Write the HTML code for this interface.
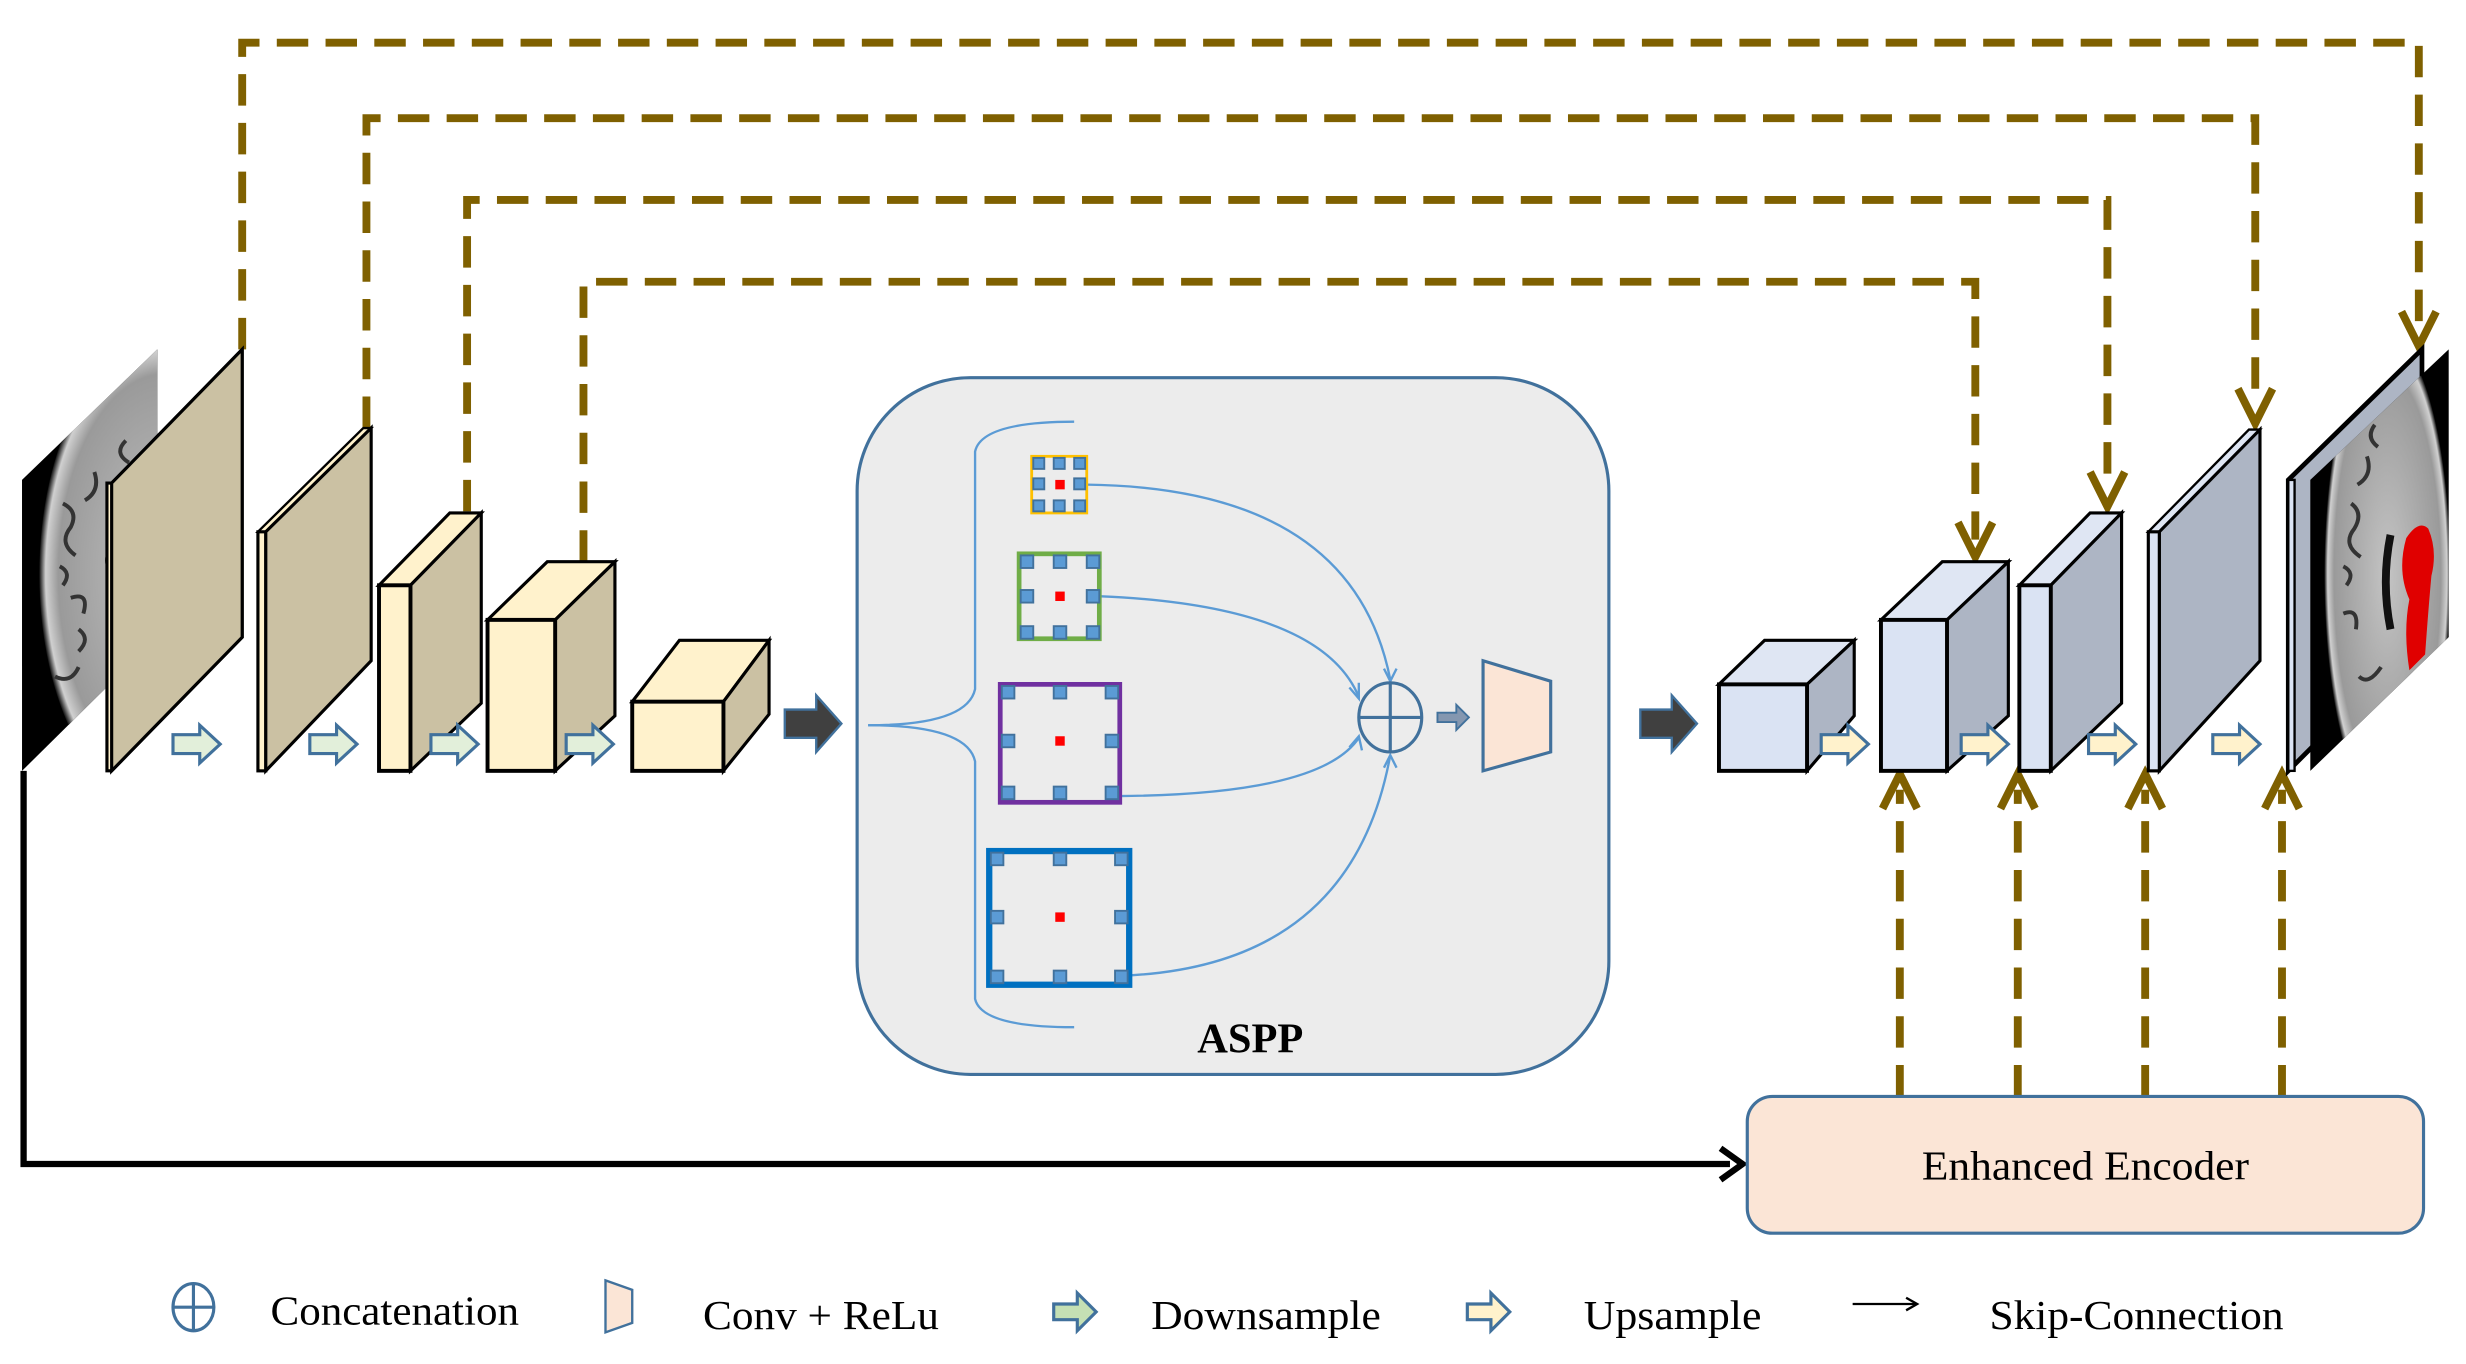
<!DOCTYPE html>
<html><head><meta charset="utf-8"><style>html,body{margin:0;padding:0;background:#fff}svg{display:block}</style></head>
<body>
<svg width="2466" height="1364" viewBox="0 0 1568 867" xmlns="http://www.w3.org/2000/svg" font-family="Liberation Serif, serif">
<defs>
<radialGradient id="br" cx="0.5" cy="0.5" r="0.5"><stop offset="0" stop-color="#c4c4c4"/><stop offset="0.85" stop-color="#9a9a9a"/><stop offset="0.95" stop-color="#d0d0d0"/><stop offset="1" stop-color="#111"/></radialGradient>
<clipPath id="cl"><polygon points="14,305 100,222 100,405 14,490"/></clipPath>
<clipPath id="cr"><polygon points="1469,305 1557,222 1557,405 1469,490"/></clipPath>
<g id="ka"><path d="M0,-6 h17 v-6 l13,12 l-13,12 v-6 h-17 z"/></g>
</defs>

<!-- top dashed skip connections -->
<g fill="none" stroke="#7f6000" stroke-width="5" stroke-dasharray="20,11">
<polyline points="154,222 154,27 1538,27 1538,210"/>
<polyline points="233,272 233,75 1434,75 1434,258"/>
<polyline points="297,325 297,127 1340,127 1340,312"/>
<polyline points="371,357 371,179 1256,179 1256,343"/>
<line x1="1208" y1="697" x2="1208" y2="502"/>
<line x1="1283" y1="697" x2="1283" y2="502"/>
<line x1="1364" y1="697" x2="1364" y2="502"/>
<line x1="1451" y1="697" x2="1451" y2="502"/>
</g>
<g fill="none" stroke="#7f6000" stroke-width="5" stroke-linejoin="miter">
<polyline points="1527,198 1538,220 1549,198"/>
<polyline points="1423,247 1434,269 1445,247"/>
<polyline points="1329,300 1340,322 1351,300"/>
<polyline points="1245,332 1256,354 1267,332"/>
<polyline points="1197,514 1208,492 1219,514"/>
<polyline points="1272,514 1283,492 1294,514"/>
<polyline points="1353,514 1364,492 1375,514"/>
<polyline points="1440,514 1451,492 1462,514"/>
</g>

<!-- left brain -->
<polygon points="14,305 100,222 100,405 14,490" fill="#000"/>
<g clip-path="url(#cl)">
<ellipse cx="105" cy="365" rx="80" ry="150" fill="url(#br)"/>
<g stroke="#333" stroke-width="2.5" fill="none">
<path d="M40,320 q10,5 5,15 q-8,10 3,18 M45,380 q12,-4 8,10 M35,430 q10,5 15,-6 M60,300 q4,12 -6,18 M55,460 q6,-8 14,-2 M70,350 q-6,10 6,16 q4,10 -4,20 M50,400 q8,6 0,14 M80,280 q-8,8 2,14 M38,360 q8,4 2,12"/>
</g>
</g>
<!-- layer 1 -->
<polygon points="68,307 71,307 154,222 154,405 71,490 68,490" fill="#fff2cc" stroke="#000" stroke-width="2"/>
<polygon points="71,307 154,222 154,405 71,490" fill="#cbc1a3" stroke="#000" stroke-width="2"/>
<!-- layer 2 -->
<polygon points="164,338 169,338 236,272 231,272" fill="#fff2cc" stroke="#000" stroke-width="1.5"/>
<rect x="164" y="338" width="5" height="152" fill="#fff2cc" stroke="#000" stroke-width="2"/>
<polygon points="169,338 236,272 236,420 169,490" fill="#cbc1a3" stroke="#000" stroke-width="2"/>
<!-- layer 3 -->
<polygon points="241,372 261,372 306,326 286,326" fill="#fff2cc" stroke="#000" stroke-width="2"/>
<polygon points="261,372 306,326 306,447 261,490" fill="#cbc1a3" stroke="#000" stroke-width="2"/>
<rect x="241" y="372" width="20" height="118" fill="#fff2cc" stroke="#000" stroke-width="2.5"/>
<!-- layer 4 -->
<polygon points="310,394 353,394 391,357 348,357" fill="#fff2cc" stroke="#000" stroke-width="2"/>
<polygon points="353,394 391,357 391,455 353,490" fill="#cbc1a3" stroke="#000" stroke-width="2"/>
<rect x="310" y="394" width="43" height="96" fill="#fff2cc" stroke="#000" stroke-width="2.5"/>
<!-- layer 5 -->
<polygon points="402,446 460,446 489,407 432,407" fill="#fff2cc" stroke="#000" stroke-width="2"/>
<polygon points="460,446 489,407 489,454 460,490" fill="#cbc1a3" stroke="#000" stroke-width="2"/>
<rect x="402" y="446" width="58" height="44" fill="#fff2cc" stroke="#000" stroke-width="2.5"/>

<!-- downsample arrows -->
<g fill="#e2efda" stroke="#41719c" stroke-width="2">
<use href="#ka" x="110" y="473"/><use href="#ka" x="197" y="473"/><use href="#ka" x="274" y="473"/><use href="#ka" x="360" y="473"/>
</g>
<!-- dark arrows -->
<g fill="#404040" stroke="#41719c" stroke-width="1.5">
<path d="M499,451 h20 v-9 l16,18 l-16,18 v-9 h-20 z"/>
<path d="M1043,451 h20 v-9 l16,18 l-16,18 v-9 h-20 z"/>
</g>

<!-- ASPP -->
<rect x="545" y="240" width="478" height="443" rx="72" fill="#ececec" stroke="#41719c" stroke-width="2"/>
<g fill="none" stroke="#5b9bd5" stroke-width="1.5">
<path d="M552,461 Q615,461 620,438 L620,287 Q624,268 683,268"/>
<path d="M552,461 Q615,461 620,484 L620,635 Q624,653 683,653"/>
<path d="M691,308 Q860,310 884,432"/>
<path d="M700,379 Q840,385 864,443"/>
<path d="M712,506 Q840,505 864,469"/>
<path d="M719,620 Q860,612 884,480"/>
</g>
<g stroke="#5b9bd5" stroke-width="1.5" fill="none">
<polyline points="880,425 884,433 888,425"/><polyline points="858,437 864,444 864,434"/>
<polyline points="858,475 864,468 866,477"/><polyline points="880,488 884,480 888,488"/>
</g>
<g fill="none" stroke-width="2.5">
<rect x="656" y="290" width="35" height="36" stroke="#ffc000" stroke-width="1.8"/>
<rect x="648" y="352" width="51" height="54" stroke="#70ad47" stroke-width="3"/>
<rect x="636" y="435" width="76" height="75" stroke="#7030a0" stroke-width="3"/>
<rect x="629" y="541" width="89" height="85" stroke="#0070c0" stroke-width="4"/>
</g>
<g fill="#5b9bd5" stroke="#41719c" stroke-width="1.2">
<rect x="657" y="291" width="7" height="7"/><rect x="670" y="291" width="7" height="7"/><rect x="683" y="291" width="7" height="7"/>
<rect x="657" y="304" width="7" height="7"/><rect x="683" y="304" width="7" height="7"/>
<rect x="657" y="318" width="7" height="7"/><rect x="670" y="318" width="7" height="7"/><rect x="683" y="318" width="7" height="7"/>
<rect x="649" y="353" width="8" height="8"/><rect x="670" y="353" width="8" height="8"/><rect x="691" y="353" width="8" height="8"/>
<rect x="649" y="375" width="8" height="8"/><rect x="691" y="375" width="8" height="8"/>
<rect x="649" y="398" width="8" height="8"/><rect x="670" y="398" width="8" height="8"/><rect x="691" y="398" width="8" height="8"/>
<rect x="637" y="436" width="8" height="8"/><rect x="670" y="436" width="8" height="8"/><rect x="703" y="436" width="8" height="8"/>
<rect x="637" y="467" width="8" height="8"/><rect x="703" y="467" width="8" height="8"/>
<rect x="637" y="500" width="8" height="8"/><rect x="670" y="500" width="8" height="8"/><rect x="703" y="500" width="8" height="8"/>
<rect x="630" y="542" width="8" height="8"/><rect x="670" y="542" width="8" height="8"/><rect x="709" y="542" width="8" height="8"/>
<rect x="630" y="579" width="8" height="8"/><rect x="709" y="579" width="8" height="8"/>
<rect x="630" y="617" width="8" height="8"/><rect x="670" y="617" width="8" height="8"/><rect x="709" y="617" width="8" height="8"/>
</g>
<g fill="#f00">
<rect x="671" y="305" width="6" height="6"/><rect x="671" y="376" width="6" height="6"/><rect x="671" y="468" width="6" height="6"/><rect x="671" y="580" width="6" height="6"/>
</g>
<ellipse cx="884" cy="456" rx="20" ry="22" fill="none" stroke="#41719c" stroke-width="2"/>
<path d="M864,456 h40 M884,434 v44" stroke="#41719c" stroke-width="2"/>
<path d="M914,453 h12 v-5 l8,8 l-8,8 v-5 h-12 z" fill="#8497b0" stroke="#41719c" stroke-width="1.2"/>
<polygon points="943,420 986,433 986,478 943,490" fill="#fbe5d6" stroke="#41719c" stroke-width="2"/>
<text x="795" y="669" font-size="27" font-weight="bold" text-anchor="middle">ASPP</text>

<!-- decoder -->
<polygon points="1093,435 1149,435 1179,407 1122,407" fill="#dfe6f3" stroke="#000" stroke-width="2"/>
<polygon points="1149,435 1179,407 1179,455 1149,490" fill="#adb5c4" stroke="#000" stroke-width="2"/>
<rect x="1093" y="435" width="56" height="55" fill="#dae3f3" stroke="#000" stroke-width="2.5"/>
<polygon points="1196,394 1238,394 1277,357 1235,357" fill="#dfe6f3" stroke="#000" stroke-width="2"/>
<polygon points="1238,394 1277,357 1277,455 1238,490" fill="#adb5c4" stroke="#000" stroke-width="2"/>
<rect x="1196" y="394" width="42" height="96" fill="#dae3f3" stroke="#000" stroke-width="2.5"/>
<polygon points="1284,372 1304,372 1349,326 1329,326" fill="#dfe6f3" stroke="#000" stroke-width="2"/>
<polygon points="1304,372 1349,326 1349,447 1304,490" fill="#adb5c4" stroke="#000" stroke-width="2"/>
<rect x="1284" y="372" width="20" height="118" fill="#dae3f3" stroke="#000" stroke-width="2.5"/>
<polygon points="1366,338 1373,338 1437,273 1430,273" fill="#dfe6f3" stroke="#000" stroke-width="1.5"/>
<polygon points="1373,338 1437,273 1437,420 1373,490" fill="#adb5c4" stroke="#000" stroke-width="2"/>
<rect x="1366" y="338" width="7" height="152" fill="#dae3f3" stroke="#000" stroke-width="2"/>
<polygon points="1455,305 1540,222 1540,405 1455,490" fill="#adb5c4" stroke="#000" stroke-width="3"/>
<rect x="1455" y="305" width="4" height="185" fill="#dae3f3" stroke="#000" stroke-width="1.5"/>
<!-- right brain -->
<polygon points="1469,305 1557,222 1557,405 1469,490" fill="#000"/>
<g clip-path="url(#cr)">
<ellipse cx="1518" cy="365" rx="40" ry="150" fill="url(#br)"/>
<g stroke="#333" stroke-width="2.5" fill="none">
<path d="M1495,320 q8,6 2,16 q-8,10 4,18 M1490,390 q10,-4 8,10 M1500,430 q6,6 14,-6 M1505,290 q4,12 -6,18 M1490,360 q8,4 2,12 M1510,270 q-6,8 2,14"/>
<path d="M1520,340 q-6,30 0,60" stroke="#111" stroke-width="5"/>
</g>
<path d="M1530,342 q8,-12 14,-6 q6,14 2,30 q-2,22 -4,50 l-10,10 q-4,-25 0,-45 q-8,-18 -2,-39 z" fill="#e00000"/>
</g>

<!-- upsample arrows -->
<g fill="#fff2cc" stroke="#41719c" stroke-width="2">
<use href="#ka" x="1158" y="473"/><use href="#ka" x="1247" y="473"/><use href="#ka" x="1328" y="473"/><use href="#ka" x="1407" y="473"/>
</g>

<!-- black skip -->
<polyline points="15,490 15,740 1100,740" fill="none" stroke="#000" stroke-width="4"/>
<polyline points="1094,730 1108,740 1094,750" fill="none" stroke="#000" stroke-width="4"/>

<rect x="1111" y="697" width="430" height="87" rx="16" fill="#fbe5d6" stroke="#41719c" stroke-width="2"/>
<text x="1326" y="750" font-size="26" text-anchor="middle" textLength="208" lengthAdjust="spacingAndGlyphs">Enhanced Encoder</text>

<!-- legend -->
<ellipse cx="123" cy="831" rx="13" ry="15" fill="none" stroke="#41719c" stroke-width="2"/>
<path d="M110,831 h26 M123,816 v30" stroke="#41719c" stroke-width="2"/>
<text x="172" y="842" font-size="26" textLength="158" lengthAdjust="spacingAndGlyphs">Concatenation</text>
<polygon points="385,814 402,820 402,841 385,847" fill="#fbe5d6" stroke="#41719c" stroke-width="1.5"/>
<text x="447" y="845" font-size="26" textLength="150" lengthAdjust="spacingAndGlyphs">Conv + ReLu</text>
<path d="M670,829 h15 v-7 l12,12 l-12,12 v-7 h-15 z" fill="#c5e0b4" stroke="#41719c" stroke-width="2"/>
<text x="732" y="845" font-size="26" textLength="146" lengthAdjust="spacingAndGlyphs">Downsample</text>
<path d="M933,829 h15 v-7 l12,12 l-12,12 v-7 h-15 z" fill="#fff2cc" stroke="#41719c" stroke-width="2"/>
<text x="1007" y="845" font-size="26" textLength="113" lengthAdjust="spacingAndGlyphs">Upsample</text>
<line x1="1178" y1="829" x2="1218" y2="829" stroke="#000" stroke-width="1.5"/>
<polyline points="1212,825 1219,829 1212,833" fill="none" stroke="#000" stroke-width="1.5"/>
<text x="1265" y="845" font-size="26" textLength="187" lengthAdjust="spacingAndGlyphs">Skip-Connection</text>
</svg>
</body></html>
